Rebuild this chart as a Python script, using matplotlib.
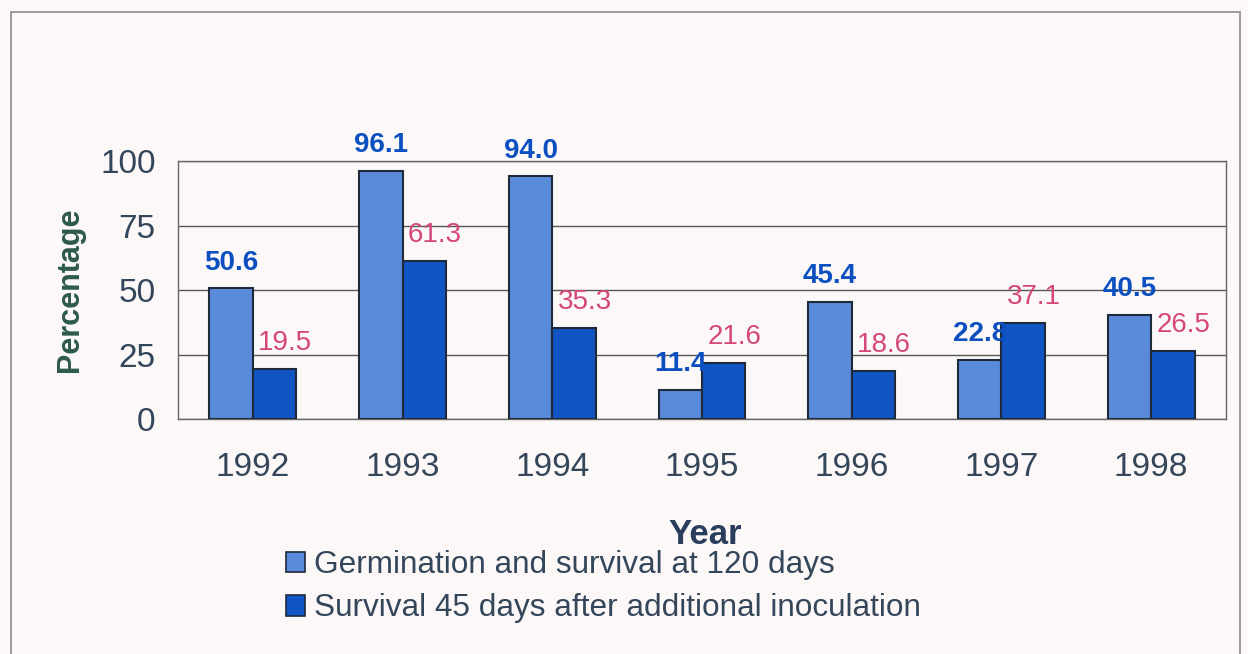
import numpy as np
import matplotlib
matplotlib.use("Agg")
import matplotlib.pyplot as plt
from matplotlib.patches import Rectangle, Patch

years = ["1992", "1993", "1994", "1995", "1996", "1997", "1998"]
germination = [50.6, 96.1, 94.0, 11.4, 45.4, 22.8, 40.5]
survival = [19.5, 61.3, 35.3, 21.6, 18.6, 37.1, 26.5]
series_names = ["Germination and survival at 120 days",
                "Survival 45 days after additional inoculation"]
yticks = [0, 25, 50, 75, 100]

plt.rcParams["font.family"] = ["Liberation Sans", "DejaVu Sans"]

bg = "#fcf8f8"
c1 = "#5a8bda"
c2 = "#1154c4"
edge = "#1e2a3a"
text_col = "#34465a"

fig = plt.figure(figsize=(12.48, 6.54), dpi=100, facecolor=bg)
# outer frame
fig.patches.append(Rectangle((0.0088, -0.02), 0.985, 1.0017, transform=fig.transFigure,
                             fill=False, edgecolor="#8a8a8a", linewidth=1.2))

ax = fig.add_axes([0.1426, 0.3593, 0.8398, 0.3945])
ax.set_facecolor(bg)

x = np.arange(len(years))
w = 0.29
ax.bar(x - w / 2, germination, w, color=c1, edgecolor=edge, linewidth=1.5, zorder=3)
ax.bar(x + w / 2, survival, w, color=c2, edgecolor=edge, linewidth=1.5, zorder=3)

for i in range(len(years)):
    ax.text(x[i] - w / 2, germination[i] + 10, f"{germination[i]:.1f}", ha="center", va="center",
            fontsize=20, fontweight="bold", color="#0b4fc0", zorder=4)
    ax.text(x[i] + w / 2 + 0.07, survival[i] + 10, f"{survival[i]:.1f}", ha="center", va="center",
            fontsize=20, color="#d4467c", zorder=4)

ax.set_xlim(-0.5, len(years) - 0.5)
ax.set_ylim(0, 100)
ax.set_yticks(yticks)
ax.set_xticks(x)
ax.set_xticklabels(years)
ax.tick_params(axis="both", length=0, labelsize=24, colors=text_col)
ax.tick_params(axis="x", pad=24)
ax.tick_params(axis="y", pad=16)
ax.yaxis.grid(True, color="#555555", linewidth=1.0, zorder=1)
for s in ax.spines.values():
    s.set_color("#666666")
    s.set_linewidth(1.0)

ax.set_ylabel("Percentage", fontsize=22, fontweight="bold", color="#2d5a4c", labelpad=11)
fig.text(0.565, 0.182, "Year", ha="center", va="center", fontsize=25,
         fontweight="bold", color="#2a3d5c")

handles = [Patch(facecolor=c1, edgecolor=edge, linewidth=1.2),
           Patch(facecolor=c2, edgecolor=edge, linewidth=1.2)]
leg = fig.legend(handles, series_names, loc="upper left", bbox_to_anchor=(0.219, 0.178),
                 frameon=False, fontsize=22.7, handlelength=0.62, handleheight=0.62,
                 handletextpad=0.28, labelspacing=0.42, borderaxespad=0)
for t in leg.get_texts():
    t.set_color(text_col)

fig.savefig("out.png", dpi=100, facecolor=bg)
